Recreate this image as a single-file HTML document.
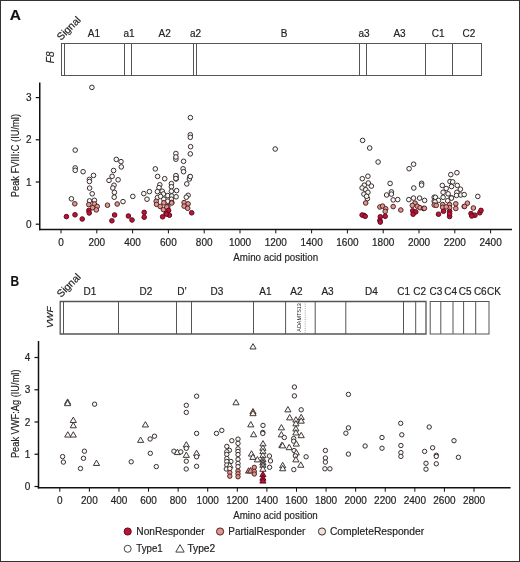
<!DOCTYPE html>
<html><head><meta charset="utf-8"><style>
html,body{margin:0;padding:0;background:#fff;}
#wrap{position:relative;width:520px;height:562px;box-sizing:border-box;border:1px solid #333;overflow:hidden;background:#fff;}
svg{position:absolute;left:-1px;top:-1px;will-change:transform;}
svg text{font-family:"Liberation Sans", sans-serif;stroke:#222;stroke-width:0.18px;}
</style></head><body><div id="wrap">
<svg width="520" height="562" viewBox="0 0 520 562">
<text x="15.3" y="20.3" font-size="15.5" text-anchor="middle" fill="#111" font-weight="bold" font-style="normal" >A</text>
<rect x="61.5" y="43.5" width="420.0" height="32.0" fill="none" stroke="#555" stroke-width="1"/>
<line x1="64.5" y1="43.5" x2="64.5" y2="75.5" stroke="#555" stroke-width="1"/>
<line x1="124.5" y1="43.5" x2="124.5" y2="75.5" stroke="#555" stroke-width="1"/>
<line x1="131.5" y1="43.5" x2="131.5" y2="75.5" stroke="#555" stroke-width="1"/>
<line x1="193.5" y1="43.5" x2="193.5" y2="75.5" stroke="#555" stroke-width="1"/>
<line x1="196.5" y1="43.5" x2="196.5" y2="75.5" stroke="#555" stroke-width="1"/>
<line x1="359.5" y1="43.5" x2="359.5" y2="75.5" stroke="#555" stroke-width="1"/>
<line x1="366.5" y1="43.5" x2="366.5" y2="75.5" stroke="#555" stroke-width="1"/>
<line x1="425.5" y1="43.5" x2="425.5" y2="75.5" stroke="#555" stroke-width="1"/>
<line x1="452.5" y1="43.5" x2="452.5" y2="75.5" stroke="#555" stroke-width="1"/>
<text x="93.9" y="37.3" font-size="10" text-anchor="middle" fill="#222" font-weight="normal" font-style="normal" >A1</text>
<text x="129" y="37.3" font-size="10" text-anchor="middle" fill="#222" font-weight="normal" font-style="normal" >a1</text>
<text x="164.7" y="37.3" font-size="10" text-anchor="middle" fill="#222" font-weight="normal" font-style="normal" >A2</text>
<text x="195.5" y="37.3" font-size="10" text-anchor="middle" fill="#222" font-weight="normal" font-style="normal" >a2</text>
<text x="284.2" y="37.3" font-size="10" text-anchor="middle" fill="#222" font-weight="normal" font-style="normal" >B</text>
<text x="364" y="37.3" font-size="10" text-anchor="middle" fill="#222" font-weight="normal" font-style="normal" >a3</text>
<text x="399.5" y="37.3" font-size="10" text-anchor="middle" fill="#222" font-weight="normal" font-style="normal" >A3</text>
<text x="438.2" y="37.3" font-size="10" text-anchor="middle" fill="#222" font-weight="normal" font-style="normal" >C1</text>
<text x="468.9" y="37.3" font-size="10" text-anchor="middle" fill="#222" font-weight="normal" font-style="normal" >C2</text>
<text x="0" y="0" font-size="10.4" fill="#222" transform="translate(61,41) rotate(-45)">Signal</text>
<text x="0" y="0" font-size="10" fill="#222" font-style="italic" text-anchor="middle" transform="translate(53.5,57.4) rotate(-90)">F8</text>
<line x1="39.75" y1="82.5" x2="39.75" y2="230.15" stroke="#111" stroke-width="1.5"/>
<line x1="39.0" y1="229.4" x2="512" y2="229.4" stroke="#111" stroke-width="1.5"/>
<line x1="35.75" y1="224.20" x2="39.75" y2="224.20" stroke="#111" stroke-width="1.2"/>
<text x="31.6" y="227.79999999999998" font-size="10" text-anchor="end" fill="#222" font-weight="normal" font-style="normal" >0</text>
<line x1="35.75" y1="182.00" x2="39.75" y2="182.00" stroke="#111" stroke-width="1.2"/>
<text x="31.6" y="185.6" font-size="10" text-anchor="end" fill="#222" font-weight="normal" font-style="normal" >1</text>
<line x1="35.75" y1="139.80" x2="39.75" y2="139.80" stroke="#111" stroke-width="1.2"/>
<text x="31.6" y="143.39999999999998" font-size="10" text-anchor="end" fill="#222" font-weight="normal" font-style="normal" >2</text>
<line x1="35.75" y1="97.60" x2="39.75" y2="97.60" stroke="#111" stroke-width="1.2"/>
<text x="31.6" y="101.19999999999997" font-size="10" text-anchor="end" fill="#222" font-weight="normal" font-style="normal" >3</text>
<line x1="61.00" y1="229.4" x2="61.00" y2="233.4" stroke="#111" stroke-width="1"/>
<text x="61.00" y="246" font-size="10" text-anchor="middle" fill="#222" font-weight="normal" font-style="normal" >0</text>
<line x1="96.80" y1="229.4" x2="96.80" y2="233.4" stroke="#111" stroke-width="1"/>
<text x="96.80" y="246" font-size="10" text-anchor="middle" fill="#222" font-weight="normal" font-style="normal" >200</text>
<line x1="132.60" y1="229.4" x2="132.60" y2="233.4" stroke="#111" stroke-width="1"/>
<text x="132.60" y="246" font-size="10" text-anchor="middle" fill="#222" font-weight="normal" font-style="normal" >400</text>
<line x1="168.40" y1="229.4" x2="168.40" y2="233.4" stroke="#111" stroke-width="1"/>
<text x="168.40" y="246" font-size="10" text-anchor="middle" fill="#222" font-weight="normal" font-style="normal" >600</text>
<line x1="204.20" y1="229.4" x2="204.20" y2="233.4" stroke="#111" stroke-width="1"/>
<text x="204.20" y="246" font-size="10" text-anchor="middle" fill="#222" font-weight="normal" font-style="normal" >800</text>
<line x1="240.00" y1="229.4" x2="240.00" y2="233.4" stroke="#111" stroke-width="1"/>
<text x="240.00" y="246" font-size="10" text-anchor="middle" fill="#222" font-weight="normal" font-style="normal" >1000</text>
<line x1="275.80" y1="229.4" x2="275.80" y2="233.4" stroke="#111" stroke-width="1"/>
<text x="275.80" y="246" font-size="10" text-anchor="middle" fill="#222" font-weight="normal" font-style="normal" >1200</text>
<line x1="311.60" y1="229.4" x2="311.60" y2="233.4" stroke="#111" stroke-width="1"/>
<text x="311.60" y="246" font-size="10" text-anchor="middle" fill="#222" font-weight="normal" font-style="normal" >1400</text>
<line x1="347.40" y1="229.4" x2="347.40" y2="233.4" stroke="#111" stroke-width="1"/>
<text x="347.40" y="246" font-size="10" text-anchor="middle" fill="#222" font-weight="normal" font-style="normal" >1600</text>
<line x1="383.20" y1="229.4" x2="383.20" y2="233.4" stroke="#111" stroke-width="1"/>
<text x="383.20" y="246" font-size="10" text-anchor="middle" fill="#222" font-weight="normal" font-style="normal" >1800</text>
<line x1="419.00" y1="229.4" x2="419.00" y2="233.4" stroke="#111" stroke-width="1"/>
<text x="419.00" y="246" font-size="10" text-anchor="middle" fill="#222" font-weight="normal" font-style="normal" >2000</text>
<line x1="454.80" y1="229.4" x2="454.80" y2="233.4" stroke="#111" stroke-width="1"/>
<text x="454.80" y="246" font-size="10" text-anchor="middle" fill="#222" font-weight="normal" font-style="normal" >2200</text>
<line x1="490.60" y1="229.4" x2="490.60" y2="233.4" stroke="#111" stroke-width="1"/>
<text x="490.60" y="246" font-size="10" text-anchor="middle" fill="#222" font-weight="normal" font-style="normal" >2400</text>
<text x="275.7" y="260.6" font-size="11.5" text-anchor="middle" fill="#222" font-weight="normal" font-style="normal" textLength="84.8" lengthAdjust="spacingAndGlyphs" >Amino acid position</text>
<text x="0" y="0" font-size="11" fill="#222" text-anchor="middle" textLength="83.2" lengthAdjust="spacingAndGlyphs" transform="translate(19.2,155.6) rotate(-90)">Peak FVIII:C (IU/ml)</text>
<circle cx="91.9" cy="87.4" r="2.3" fill="#fdf6f5" stroke="#353030" stroke-width="1.0"/>
<circle cx="75.2" cy="150.1" r="2.3" fill="#fdf6f5" stroke="#353030" stroke-width="1.0"/>
<circle cx="75.2" cy="167.9" r="2.3" fill="#fdf6f5" stroke="#353030" stroke-width="1.0"/>
<circle cx="75.2" cy="170.3" r="2.3" fill="#fdf6f5" stroke="#353030" stroke-width="1.0"/>
<circle cx="83.1" cy="171.7" r="2.3" fill="#fdf6f5" stroke="#353030" stroke-width="1.0"/>
<circle cx="93.5" cy="175.4" r="2.3" fill="#fdf6f5" stroke="#353030" stroke-width="1.0"/>
<circle cx="89.4" cy="179.4" r="2.3" fill="#fdf6f5" stroke="#353030" stroke-width="1.0"/>
<circle cx="89.4" cy="181.5" r="2.3" fill="#fdf6f5" stroke="#353030" stroke-width="1.0"/>
<circle cx="89.6" cy="188.1" r="2.3" fill="#fdf6f5" stroke="#353030" stroke-width="1.0"/>
<circle cx="92.2" cy="193.8" r="2.3" fill="#fdf6f5" stroke="#353030" stroke-width="1.0"/>
<circle cx="71.4" cy="198.8" r="2.3" fill="#fdf6f5" stroke="#353030" stroke-width="1.0"/>
<circle cx="89.5" cy="200.9" r="2.3" fill="#fdf6f5" stroke="#353030" stroke-width="1.0"/>
<circle cx="94.4" cy="200.3" r="2.3" fill="#fdf6f5" stroke="#353030" stroke-width="1.0"/>
<circle cx="116.3" cy="159.4" r="2.3" fill="#fdf6f5" stroke="#353030" stroke-width="1.0"/>
<circle cx="121.0" cy="161.6" r="2.3" fill="#fdf6f5" stroke="#353030" stroke-width="1.0"/>
<circle cx="121.3" cy="166.9" r="2.3" fill="#fdf6f5" stroke="#353030" stroke-width="1.0"/>
<circle cx="113.6" cy="170.5" r="2.3" fill="#fdf6f5" stroke="#353030" stroke-width="1.0"/>
<circle cx="112.1" cy="176.3" r="2.3" fill="#fdf6f5" stroke="#353030" stroke-width="1.0"/>
<circle cx="109.0" cy="180.4" r="2.3" fill="#fdf6f5" stroke="#353030" stroke-width="1.0"/>
<circle cx="118.1" cy="179.8" r="2.3" fill="#fdf6f5" stroke="#353030" stroke-width="1.0"/>
<circle cx="114.0" cy="185.2" r="2.3" fill="#fdf6f5" stroke="#353030" stroke-width="1.0"/>
<circle cx="112.8" cy="188.0" r="2.3" fill="#fdf6f5" stroke="#353030" stroke-width="1.0"/>
<circle cx="114.4" cy="192.4" r="2.3" fill="#fdf6f5" stroke="#353030" stroke-width="1.0"/>
<circle cx="114.2" cy="197.2" r="2.3" fill="#fdf6f5" stroke="#353030" stroke-width="1.0"/>
<circle cx="132.8" cy="196.4" r="2.3" fill="#fdf6f5" stroke="#353030" stroke-width="1.0"/>
<circle cx="123.0" cy="201.6" r="2.3" fill="#fdf6f5" stroke="#353030" stroke-width="1.0"/>
<circle cx="155.3" cy="168.9" r="2.3" fill="#fdf6f5" stroke="#353030" stroke-width="1.0"/>
<circle cx="157.6" cy="176.4" r="2.3" fill="#fdf6f5" stroke="#353030" stroke-width="1.0"/>
<circle cx="164.7" cy="178.7" r="2.3" fill="#fdf6f5" stroke="#353030" stroke-width="1.0"/>
<circle cx="143.8" cy="193.6" r="2.3" fill="#fdf6f5" stroke="#353030" stroke-width="1.0"/>
<circle cx="149.4" cy="191.6" r="2.3" fill="#fdf6f5" stroke="#353030" stroke-width="1.0"/>
<circle cx="147.0" cy="199.2" r="2.3" fill="#fdf6f5" stroke="#353030" stroke-width="1.0"/>
<circle cx="159.8" cy="184.8" r="2.3" fill="#fdf6f5" stroke="#353030" stroke-width="1.0"/>
<circle cx="159.0" cy="187.6" r="2.3" fill="#fdf6f5" stroke="#353030" stroke-width="1.0"/>
<circle cx="157.4" cy="191.6" r="2.3" fill="#fdf6f5" stroke="#353030" stroke-width="1.0"/>
<circle cx="162.2" cy="191.2" r="2.3" fill="#fdf6f5" stroke="#353030" stroke-width="1.0"/>
<circle cx="163.4" cy="194.0" r="2.3" fill="#fdf6f5" stroke="#353030" stroke-width="1.0"/>
<circle cx="157.4" cy="197.6" r="2.3" fill="#fdf6f5" stroke="#353030" stroke-width="1.0"/>
<circle cx="160.6" cy="196.4" r="2.3" fill="#fdf6f5" stroke="#353030" stroke-width="1.0"/>
<circle cx="171.4" cy="183.6" r="2.3" fill="#fdf6f5" stroke="#353030" stroke-width="1.0"/>
<circle cx="171.4" cy="186.8" r="2.3" fill="#fdf6f5" stroke="#353030" stroke-width="1.0"/>
<circle cx="171.4" cy="191.2" r="2.3" fill="#fdf6f5" stroke="#353030" stroke-width="1.0"/>
<circle cx="167.8" cy="195.6" r="2.3" fill="#fdf6f5" stroke="#353030" stroke-width="1.0"/>
<circle cx="171.8" cy="196.0" r="2.3" fill="#fdf6f5" stroke="#353030" stroke-width="1.0"/>
<circle cx="163.8" cy="199.2" r="2.3" fill="#fdf6f5" stroke="#353030" stroke-width="1.0"/>
<circle cx="171.4" cy="199.2" r="2.3" fill="#fdf6f5" stroke="#353030" stroke-width="1.0"/>
<circle cx="167.8" cy="201.2" r="2.3" fill="#fdf6f5" stroke="#353030" stroke-width="1.0"/>
<circle cx="176.1" cy="176.3" r="2.3" fill="#fdf6f5" stroke="#353030" stroke-width="1.0"/>
<circle cx="176.1" cy="179.0" r="2.3" fill="#fdf6f5" stroke="#353030" stroke-width="1.0"/>
<circle cx="189.9" cy="176.8" r="2.3" fill="#fdf6f5" stroke="#353030" stroke-width="1.0"/>
<circle cx="189.4" cy="179.0" r="2.3" fill="#fdf6f5" stroke="#353030" stroke-width="1.0"/>
<circle cx="186.8" cy="183.9" r="2.3" fill="#fdf6f5" stroke="#353030" stroke-width="1.0"/>
<circle cx="176.6" cy="190.6" r="2.3" fill="#fdf6f5" stroke="#353030" stroke-width="1.0"/>
<circle cx="176.1" cy="196.8" r="2.3" fill="#fdf6f5" stroke="#353030" stroke-width="1.0"/>
<circle cx="188.1" cy="195.3" r="2.3" fill="#fdf6f5" stroke="#353030" stroke-width="1.0"/>
<circle cx="186.3" cy="197.2" r="2.3" fill="#fdf6f5" stroke="#353030" stroke-width="1.0"/>
<circle cx="190.4" cy="117.6" r="2.3" fill="#fdf6f5" stroke="#353030" stroke-width="1.0"/>
<circle cx="190.3" cy="134.8" r="2.3" fill="#fdf6f5" stroke="#353030" stroke-width="1.0"/>
<circle cx="190.3" cy="137.3" r="2.3" fill="#fdf6f5" stroke="#353030" stroke-width="1.0"/>
<circle cx="190.6" cy="146.7" r="2.3" fill="#fdf6f5" stroke="#353030" stroke-width="1.0"/>
<circle cx="190.3" cy="153.9" r="2.3" fill="#fdf6f5" stroke="#353030" stroke-width="1.0"/>
<circle cx="175.9" cy="153.5" r="2.3" fill="#fdf6f5" stroke="#353030" stroke-width="1.0"/>
<circle cx="175.9" cy="159.2" r="2.3" fill="#fdf6f5" stroke="#353030" stroke-width="1.0"/>
<circle cx="175.9" cy="157.0" r="2.3" fill="#fdf6f5" stroke="#353030" stroke-width="1.0"/>
<circle cx="183.6" cy="161.3" r="2.3" fill="#fdf6f5" stroke="#353030" stroke-width="1.0"/>
<circle cx="183.1" cy="168.8" r="2.3" fill="#fdf6f5" stroke="#353030" stroke-width="1.0"/>
<circle cx="183.6" cy="171.7" r="2.3" fill="#fdf6f5" stroke="#353030" stroke-width="1.0"/>
<circle cx="175.9" cy="175.6" r="2.3" fill="#fdf6f5" stroke="#353030" stroke-width="1.0"/>
<circle cx="175.9" cy="178.5" r="2.3" fill="#fdf6f5" stroke="#353030" stroke-width="1.0"/>
<circle cx="190.3" cy="176.5" r="2.3" fill="#fdf6f5" stroke="#353030" stroke-width="1.0"/>
<circle cx="275.2" cy="149.0" r="2.3" fill="#fdf6f5" stroke="#353030" stroke-width="1.0"/>
<circle cx="362.6" cy="140.4" r="2.3" fill="#fdf6f5" stroke="#353030" stroke-width="1.0"/>
<circle cx="369.7" cy="148.0" r="2.3" fill="#fdf6f5" stroke="#353030" stroke-width="1.0"/>
<circle cx="378.1" cy="162.0" r="2.3" fill="#fdf6f5" stroke="#353030" stroke-width="1.0"/>
<circle cx="367.9" cy="176.2" r="2.3" fill="#fdf6f5" stroke="#353030" stroke-width="1.0"/>
<circle cx="362.3" cy="178.7" r="2.3" fill="#fdf6f5" stroke="#353030" stroke-width="1.0"/>
<circle cx="368.3" cy="183.0" r="2.3" fill="#fdf6f5" stroke="#353030" stroke-width="1.0"/>
<circle cx="371.4" cy="186.1" r="2.3" fill="#fdf6f5" stroke="#353030" stroke-width="1.0"/>
<circle cx="364.3" cy="185.2" r="2.3" fill="#fdf6f5" stroke="#353030" stroke-width="1.0"/>
<circle cx="362.1" cy="187.9" r="2.3" fill="#fdf6f5" stroke="#353030" stroke-width="1.0"/>
<circle cx="365.7" cy="189.7" r="2.3" fill="#fdf6f5" stroke="#353030" stroke-width="1.0"/>
<circle cx="367.9" cy="192.3" r="2.3" fill="#fdf6f5" stroke="#353030" stroke-width="1.0"/>
<circle cx="363.9" cy="194.1" r="2.3" fill="#fdf6f5" stroke="#353030" stroke-width="1.0"/>
<circle cx="367.4" cy="198.6" r="2.3" fill="#fdf6f5" stroke="#353030" stroke-width="1.0"/>
<circle cx="366.6" cy="196.3" r="2.3" fill="#fdf6f5" stroke="#353030" stroke-width="1.0"/>
<circle cx="390.1" cy="183.4" r="2.3" fill="#fdf6f5" stroke="#353030" stroke-width="1.0"/>
<circle cx="386.6" cy="195.0" r="2.3" fill="#fdf6f5" stroke="#353030" stroke-width="1.0"/>
<circle cx="391.4" cy="191.9" r="2.3" fill="#fdf6f5" stroke="#353030" stroke-width="1.0"/>
<circle cx="391.4" cy="194.1" r="2.3" fill="#fdf6f5" stroke="#353030" stroke-width="1.0"/>
<circle cx="393.2" cy="199.9" r="2.3" fill="#fdf6f5" stroke="#353030" stroke-width="1.0"/>
<circle cx="413.6" cy="164.2" r="2.3" fill="#fdf6f5" stroke="#353030" stroke-width="1.0"/>
<circle cx="409.1" cy="168.7" r="2.3" fill="#fdf6f5" stroke="#353030" stroke-width="1.0"/>
<circle cx="421.6" cy="183.3" r="2.3" fill="#fdf6f5" stroke="#353030" stroke-width="1.0"/>
<circle cx="421.6" cy="185.1" r="2.3" fill="#fdf6f5" stroke="#353030" stroke-width="1.0"/>
<circle cx="413.8" cy="188.0" r="2.3" fill="#fdf6f5" stroke="#353030" stroke-width="1.0"/>
<circle cx="397.7" cy="199.6" r="2.3" fill="#fdf6f5" stroke="#353030" stroke-width="1.0"/>
<circle cx="408.8" cy="199.6" r="2.3" fill="#fdf6f5" stroke="#353030" stroke-width="1.0"/>
<circle cx="413.5" cy="198.1" r="2.3" fill="#fdf6f5" stroke="#353030" stroke-width="1.0"/>
<circle cx="419.6" cy="198.1" r="2.3" fill="#fdf6f5" stroke="#353030" stroke-width="1.0"/>
<circle cx="424.6" cy="200.4" r="2.3" fill="#fdf6f5" stroke="#353030" stroke-width="1.0"/>
<circle cx="434.2" cy="197.3" r="2.3" fill="#fdf6f5" stroke="#353030" stroke-width="1.0"/>
<circle cx="434.2" cy="201.2" r="2.3" fill="#fdf6f5" stroke="#353030" stroke-width="1.0"/>
<circle cx="456.9" cy="172.7" r="2.3" fill="#fdf6f5" stroke="#353030" stroke-width="1.0"/>
<circle cx="450.8" cy="174.6" r="2.3" fill="#fdf6f5" stroke="#353030" stroke-width="1.0"/>
<circle cx="450.0" cy="181.5" r="2.3" fill="#fdf6f5" stroke="#353030" stroke-width="1.0"/>
<circle cx="452.7" cy="181.9" r="2.3" fill="#fdf6f5" stroke="#353030" stroke-width="1.0"/>
<circle cx="451.5" cy="186.5" r="2.3" fill="#fdf6f5" stroke="#353030" stroke-width="1.0"/>
<circle cx="442.3" cy="185.4" r="2.3" fill="#fdf6f5" stroke="#353030" stroke-width="1.0"/>
<circle cx="446.2" cy="188.5" r="2.3" fill="#fdf6f5" stroke="#353030" stroke-width="1.0"/>
<circle cx="457.3" cy="185.4" r="2.3" fill="#fdf6f5" stroke="#353030" stroke-width="1.0"/>
<circle cx="460.4" cy="189.2" r="2.3" fill="#fdf6f5" stroke="#353030" stroke-width="1.0"/>
<circle cx="443.1" cy="192.3" r="2.3" fill="#fdf6f5" stroke="#353030" stroke-width="1.0"/>
<circle cx="448.1" cy="193.8" r="2.3" fill="#fdf6f5" stroke="#353030" stroke-width="1.0"/>
<circle cx="456.9" cy="192.3" r="2.3" fill="#fdf6f5" stroke="#353030" stroke-width="1.0"/>
<circle cx="456.5" cy="195.4" r="2.3" fill="#fdf6f5" stroke="#353030" stroke-width="1.0"/>
<circle cx="460.8" cy="195.0" r="2.3" fill="#fdf6f5" stroke="#353030" stroke-width="1.0"/>
<circle cx="451.2" cy="197.7" r="2.3" fill="#fdf6f5" stroke="#353030" stroke-width="1.0"/>
<circle cx="443.1" cy="197.3" r="2.3" fill="#fdf6f5" stroke="#353030" stroke-width="1.0"/>
<circle cx="435.4" cy="197.3" r="2.3" fill="#fdf6f5" stroke="#353030" stroke-width="1.0"/>
<circle cx="464.2" cy="194.6" r="2.3" fill="#fdf6f5" stroke="#353030" stroke-width="1.0"/>
<circle cx="451.5" cy="198.1" r="2.3" fill="#fdf6f5" stroke="#353030" stroke-width="1.0"/>
<circle cx="438.5" cy="200.4" r="2.3" fill="#fdf6f5" stroke="#353030" stroke-width="1.0"/>
<circle cx="435.0" cy="201.9" r="2.3" fill="#fdf6f5" stroke="#353030" stroke-width="1.0"/>
<circle cx="447.7" cy="200.8" r="2.3" fill="#fdf6f5" stroke="#353030" stroke-width="1.0"/>
<circle cx="477.8" cy="196.4" r="2.3" fill="#fdf6f5" stroke="#353030" stroke-width="1.0"/>
<circle cx="74.8" cy="203.8" r="2.3" fill="#e0968f" stroke="#4e2424" stroke-width="1.0"/>
<circle cx="88.8" cy="204.6" r="2.3" fill="#e0968f" stroke="#4e2424" stroke-width="1.0"/>
<circle cx="94.4" cy="204.0" r="2.3" fill="#e0968f" stroke="#4e2424" stroke-width="1.0"/>
<circle cx="97.2" cy="206.5" r="2.3" fill="#e0968f" stroke="#4e2424" stroke-width="1.0"/>
<circle cx="92.6" cy="207.7" r="2.3" fill="#e0968f" stroke="#4e2424" stroke-width="1.0"/>
<circle cx="96.3" cy="209.9" r="2.3" fill="#e0968f" stroke="#4e2424" stroke-width="1.0"/>
<circle cx="107.5" cy="205.2" r="2.3" fill="#e0968f" stroke="#4e2424" stroke-width="1.0"/>
<circle cx="117.2" cy="204.0" r="2.3" fill="#e0968f" stroke="#4e2424" stroke-width="1.0"/>
<circle cx="156.2" cy="201.2" r="2.3" fill="#e0968f" stroke="#4e2424" stroke-width="1.0"/>
<circle cx="156.6" cy="204.4" r="2.3" fill="#e0968f" stroke="#4e2424" stroke-width="1.0"/>
<circle cx="160.2" cy="206.4" r="2.3" fill="#e0968f" stroke="#4e2424" stroke-width="1.0"/>
<circle cx="163.8" cy="202.8" r="2.3" fill="#e0968f" stroke="#4e2424" stroke-width="1.0"/>
<circle cx="163.4" cy="209.6" r="2.3" fill="#e0968f" stroke="#4e2424" stroke-width="1.0"/>
<circle cx="167.8" cy="206.4" r="2.3" fill="#e0968f" stroke="#4e2424" stroke-width="1.0"/>
<circle cx="171.8" cy="202.4" r="2.3" fill="#e0968f" stroke="#4e2424" stroke-width="1.0"/>
<circle cx="171.7" cy="203.0" r="2.3" fill="#e0968f" stroke="#4e2424" stroke-width="1.0"/>
<circle cx="166.8" cy="207.0" r="2.3" fill="#e0968f" stroke="#4e2424" stroke-width="1.0"/>
<circle cx="184.1" cy="202.6" r="2.3" fill="#e0968f" stroke="#4e2424" stroke-width="1.0"/>
<circle cx="188.1" cy="203.9" r="2.3" fill="#e0968f" stroke="#4e2424" stroke-width="1.0"/>
<circle cx="184.1" cy="206.1" r="2.3" fill="#e0968f" stroke="#4e2424" stroke-width="1.0"/>
<circle cx="187.7" cy="208.3" r="2.3" fill="#e0968f" stroke="#4e2424" stroke-width="1.0"/>
<circle cx="365.7" cy="203.0" r="2.3" fill="#e0968f" stroke="#4e2424" stroke-width="1.0"/>
<circle cx="379.9" cy="207.0" r="2.3" fill="#e0968f" stroke="#4e2424" stroke-width="1.0"/>
<circle cx="382.6" cy="206.1" r="2.3" fill="#e0968f" stroke="#4e2424" stroke-width="1.0"/>
<circle cx="385.7" cy="208.8" r="2.3" fill="#e0968f" stroke="#4e2424" stroke-width="1.0"/>
<circle cx="385.2" cy="211.4" r="2.3" fill="#e0968f" stroke="#4e2424" stroke-width="1.0"/>
<circle cx="393.2" cy="206.6" r="2.3" fill="#e0968f" stroke="#4e2424" stroke-width="1.0"/>
<circle cx="415.0" cy="203.1" r="2.3" fill="#e0968f" stroke="#4e2424" stroke-width="1.0"/>
<circle cx="412.3" cy="205.4" r="2.3" fill="#e0968f" stroke="#4e2424" stroke-width="1.0"/>
<circle cx="417.3" cy="206.2" r="2.3" fill="#e0968f" stroke="#4e2424" stroke-width="1.0"/>
<circle cx="420.0" cy="207.7" r="2.3" fill="#e0968f" stroke="#4e2424" stroke-width="1.0"/>
<circle cx="423.5" cy="208.5" r="2.3" fill="#e0968f" stroke="#4e2424" stroke-width="1.0"/>
<circle cx="400.8" cy="210.0" r="2.3" fill="#e0968f" stroke="#4e2424" stroke-width="1.0"/>
<circle cx="434.2" cy="205.0" r="2.3" fill="#e0968f" stroke="#4e2424" stroke-width="1.0"/>
<circle cx="436.2" cy="205.4" r="2.3" fill="#e0968f" stroke="#4e2424" stroke-width="1.0"/>
<circle cx="442.7" cy="204.6" r="2.3" fill="#e0968f" stroke="#4e2424" stroke-width="1.0"/>
<circle cx="442.7" cy="207.3" r="2.3" fill="#e0968f" stroke="#4e2424" stroke-width="1.0"/>
<circle cx="449.6" cy="204.6" r="2.3" fill="#e0968f" stroke="#4e2424" stroke-width="1.0"/>
<circle cx="449.6" cy="207.7" r="2.3" fill="#e0968f" stroke="#4e2424" stroke-width="1.0"/>
<circle cx="446.2" cy="206.9" r="2.3" fill="#e0968f" stroke="#4e2424" stroke-width="1.0"/>
<circle cx="455.8" cy="203.8" r="2.3" fill="#e0968f" stroke="#4e2424" stroke-width="1.0"/>
<circle cx="455.8" cy="208.5" r="2.3" fill="#e0968f" stroke="#4e2424" stroke-width="1.0"/>
<circle cx="464.2" cy="206.5" r="2.3" fill="#e0968f" stroke="#4e2424" stroke-width="1.0"/>
<circle cx="467.4" cy="203.2" r="2.3" fill="#e0968f" stroke="#4e2424" stroke-width="1.0"/>
<circle cx="464.6" cy="206.4" r="2.3" fill="#e0968f" stroke="#4e2424" stroke-width="1.0"/>
<circle cx="473.4" cy="208.0" r="2.3" fill="#e0968f" stroke="#4e2424" stroke-width="1.0"/>
<circle cx="424.4" cy="208.3" r="2.3" fill="#e0968f" stroke="#4e2424" stroke-width="1.0"/>
<circle cx="66.4" cy="216.6" r="2.3" fill="#bd1238" stroke="#5e0a1c" stroke-width="1.0"/>
<circle cx="75.0" cy="214.8" r="2.3" fill="#bd1238" stroke="#5e0a1c" stroke-width="1.0"/>
<circle cx="82.2" cy="219.0" r="2.3" fill="#bd1238" stroke="#5e0a1c" stroke-width="1.0"/>
<circle cx="88.8" cy="210.5" r="2.3" fill="#bd1238" stroke="#5e0a1c" stroke-width="1.0"/>
<circle cx="89.2" cy="213.0" r="2.3" fill="#bd1238" stroke="#5e0a1c" stroke-width="1.0"/>
<circle cx="111.9" cy="220.8" r="2.3" fill="#bd1238" stroke="#5e0a1c" stroke-width="1.0"/>
<circle cx="114.6" cy="215.0" r="2.3" fill="#bd1238" stroke="#5e0a1c" stroke-width="1.0"/>
<circle cx="128.4" cy="216.0" r="2.3" fill="#bd1238" stroke="#5e0a1c" stroke-width="1.0"/>
<circle cx="132.0" cy="220.0" r="2.3" fill="#bd1238" stroke="#5e0a1c" stroke-width="1.0"/>
<circle cx="168.6" cy="210.4" r="2.3" fill="#bd1238" stroke="#5e0a1c" stroke-width="1.0"/>
<circle cx="166.2" cy="213.2" r="2.3" fill="#bd1238" stroke="#5e0a1c" stroke-width="1.0"/>
<circle cx="169.4" cy="215.2" r="2.3" fill="#bd1238" stroke="#5e0a1c" stroke-width="1.0"/>
<circle cx="162.6" cy="216.8" r="2.3" fill="#bd1238" stroke="#5e0a1c" stroke-width="1.0"/>
<circle cx="144.2" cy="212.4" r="2.3" fill="#bd1238" stroke="#5e0a1c" stroke-width="1.0"/>
<circle cx="144.2" cy="217.2" r="2.3" fill="#bd1238" stroke="#5e0a1c" stroke-width="1.0"/>
<circle cx="166.3" cy="214.1" r="2.3" fill="#bd1238" stroke="#5e0a1c" stroke-width="1.0"/>
<circle cx="191.7" cy="212.8" r="2.3" fill="#bd1238" stroke="#5e0a1c" stroke-width="1.0"/>
<circle cx="363.9" cy="215.4" r="2.3" fill="#bd1238" stroke="#5e0a1c" stroke-width="1.0"/>
<circle cx="362.1" cy="215.0" r="2.3" fill="#bd1238" stroke="#5e0a1c" stroke-width="1.0"/>
<circle cx="365.2" cy="216.3" r="2.3" fill="#bd1238" stroke="#5e0a1c" stroke-width="1.0"/>
<circle cx="385.2" cy="216.3" r="2.3" fill="#bd1238" stroke="#5e0a1c" stroke-width="1.0"/>
<circle cx="380.3" cy="216.8" r="2.3" fill="#bd1238" stroke="#5e0a1c" stroke-width="1.0"/>
<circle cx="379.9" cy="220.3" r="2.3" fill="#bd1238" stroke="#5e0a1c" stroke-width="1.0"/>
<circle cx="380.3" cy="222.1" r="2.3" fill="#bd1238" stroke="#5e0a1c" stroke-width="1.0"/>
<circle cx="412.7" cy="210.8" r="2.3" fill="#bd1238" stroke="#5e0a1c" stroke-width="1.0"/>
<circle cx="415.8" cy="211.9" r="2.3" fill="#bd1238" stroke="#5e0a1c" stroke-width="1.0"/>
<circle cx="413.1" cy="214.2" r="2.3" fill="#bd1238" stroke="#5e0a1c" stroke-width="1.0"/>
<circle cx="443.5" cy="211.2" r="2.3" fill="#bd1238" stroke="#5e0a1c" stroke-width="1.0"/>
<circle cx="438.5" cy="214.2" r="2.3" fill="#bd1238" stroke="#5e0a1c" stroke-width="1.0"/>
<circle cx="449.6" cy="211.5" r="2.3" fill="#bd1238" stroke="#5e0a1c" stroke-width="1.0"/>
<circle cx="449.6" cy="216.5" r="2.3" fill="#bd1238" stroke="#5e0a1c" stroke-width="1.0"/>
<circle cx="449.6" cy="213.8" r="2.3" fill="#bd1238" stroke="#5e0a1c" stroke-width="1.0"/>
<circle cx="471.0" cy="213.6" r="2.3" fill="#bd1238" stroke="#5e0a1c" stroke-width="1.0"/>
<circle cx="475.0" cy="215.2" r="2.3" fill="#bd1238" stroke="#5e0a1c" stroke-width="1.0"/>
<circle cx="471.8" cy="216.0" r="2.3" fill="#bd1238" stroke="#5e0a1c" stroke-width="1.0"/>
<circle cx="479.8" cy="212.8" r="2.3" fill="#bd1238" stroke="#5e0a1c" stroke-width="1.0"/>
<circle cx="481.0" cy="210.4" r="2.3" fill="#bd1238" stroke="#5e0a1c" stroke-width="1.0"/>
<text x="14.7" y="286.4" font-size="15.5" text-anchor="middle" fill="#111" font-weight="bold" font-style="normal" textLength="8.6" lengthAdjust="spacingAndGlyphs" >B</text>
<path d="M426 301.5H60.2V334H426Z" fill="none" stroke="#555" stroke-width="1.3"/>
<rect x="430.2" y="301.5" width="58.80000000000001" height="32.5" fill="none" stroke="#555" stroke-width="1"/>
<line x1="63.5" y1="301.5" x2="63.5" y2="334" stroke="#555" stroke-width="1"/>
<line x1="118.5" y1="301.5" x2="118.5" y2="334" stroke="#555" stroke-width="1"/>
<line x1="176.5" y1="301.5" x2="176.5" y2="334" stroke="#555" stroke-width="1"/>
<line x1="191.5" y1="301.5" x2="191.5" y2="334" stroke="#555" stroke-width="1"/>
<line x1="253.5" y1="301.5" x2="253.5" y2="334" stroke="#555" stroke-width="1"/>
<line x1="285.6" y1="301.5" x2="285.6" y2="334" stroke="#555" stroke-width="1"/>
<line x1="315.2" y1="301.5" x2="315.2" y2="334" stroke="#555" stroke-width="1"/>
<line x1="345.8" y1="301.5" x2="345.8" y2="334" stroke="#555" stroke-width="1"/>
<line x1="403.5" y1="301.5" x2="403.5" y2="334" stroke="#555" stroke-width="1"/>
<line x1="415.7" y1="301.5" x2="415.7" y2="334" stroke="#555" stroke-width="1"/>
<line x1="440.8" y1="301.5" x2="440.8" y2="334" stroke="#555" stroke-width="1"/>
<line x1="453" y1="301.5" x2="453" y2="334" stroke="#555" stroke-width="1"/>
<line x1="463.6" y1="301.5" x2="463.6" y2="334" stroke="#555" stroke-width="1"/>
<line x1="475.7" y1="301.5" x2="475.7" y2="334" stroke="#555" stroke-width="1"/>
<line x1="305.2" y1="301.5" x2="305.2" y2="334" stroke="#888" stroke-width="0.8" stroke-dasharray="1 1.2"/>
<text x="0" y="0" font-size="6" fill="#222" style="stroke-width:0" text-anchor="middle" textLength="28.5" lengthAdjust="spacingAndGlyphs" transform="translate(301,317.4) rotate(-90)">ADAMTS13</text>
<text x="90" y="294.6" font-size="10" text-anchor="middle" fill="#222" font-weight="normal" font-style="normal" >D1</text>
<text x="146" y="294.6" font-size="10" text-anchor="middle" fill="#222" font-weight="normal" font-style="normal" >D2</text>
<text x="182" y="294.6" font-size="10" text-anchor="middle" fill="#222" font-weight="normal" font-style="normal" >D’</text>
<text x="216.9" y="294.6" font-size="10" text-anchor="middle" fill="#222" font-weight="normal" font-style="normal" >D3</text>
<text x="265.4" y="294.6" font-size="10" text-anchor="middle" fill="#222" font-weight="normal" font-style="normal" >A1</text>
<text x="296.4" y="294.6" font-size="10" text-anchor="middle" fill="#222" font-weight="normal" font-style="normal" >A2</text>
<text x="327.5" y="294.6" font-size="10" text-anchor="middle" fill="#222" font-weight="normal" font-style="normal" >A3</text>
<text x="371.4" y="294.6" font-size="10" text-anchor="middle" fill="#222" font-weight="normal" font-style="normal" >D4</text>
<text x="403.6" y="294.6" font-size="10" text-anchor="middle" fill="#222" font-weight="normal" font-style="normal" >C1</text>
<text x="419.7" y="294.6" font-size="10" text-anchor="middle" fill="#222" font-weight="normal" font-style="normal" >C2</text>
<text x="436" y="294.6" font-size="10" text-anchor="middle" fill="#222" font-weight="normal" font-style="normal" >C3</text>
<text x="450.6" y="294.6" font-size="10" text-anchor="middle" fill="#222" font-weight="normal" font-style="normal" >C4</text>
<text x="465.2" y="294.6" font-size="10" text-anchor="middle" fill="#222" font-weight="normal" font-style="normal" >C5</text>
<text x="480.3" y="294.6" font-size="10" text-anchor="middle" fill="#222" font-weight="normal" font-style="normal" >C6</text>
<text x="493.9" y="294.6" font-size="10" text-anchor="middle" fill="#222" font-weight="normal" font-style="normal" >CK</text>
<text x="0" y="0" font-size="10.4" fill="#222" transform="translate(61,298) rotate(-45)">Signal</text>
<text x="0" y="0" font-size="9.6" fill="#222" font-style="italic" text-anchor="middle" transform="translate(53.4,317.4) rotate(-90)">VWF</text>
<line x1="38.5" y1="341" x2="38.5" y2="488.5" stroke="#111" stroke-width="1.5"/>
<line x1="37.75" y1="487.75" x2="510.6" y2="487.75" stroke="#111" stroke-width="1.5"/>
<line x1="34.5" y1="486.50" x2="38.5" y2="486.50" stroke="#111" stroke-width="1.2"/>
<text x="30.4" y="490.1" font-size="10" text-anchor="end" fill="#222" font-weight="normal" font-style="normal" >0</text>
<line x1="34.5" y1="454.25" x2="38.5" y2="454.25" stroke="#111" stroke-width="1.2"/>
<text x="30.4" y="457.85" font-size="10" text-anchor="end" fill="#222" font-weight="normal" font-style="normal" >1</text>
<line x1="34.5" y1="422.00" x2="38.5" y2="422.00" stroke="#111" stroke-width="1.2"/>
<text x="30.4" y="425.6" font-size="10" text-anchor="end" fill="#222" font-weight="normal" font-style="normal" >2</text>
<line x1="34.5" y1="389.75" x2="38.5" y2="389.75" stroke="#111" stroke-width="1.2"/>
<text x="30.4" y="393.35" font-size="10" text-anchor="end" fill="#222" font-weight="normal" font-style="normal" >3</text>
<line x1="34.5" y1="357.50" x2="38.5" y2="357.50" stroke="#111" stroke-width="1.2"/>
<text x="30.4" y="361.1" font-size="10" text-anchor="end" fill="#222" font-weight="normal" font-style="normal" >4</text>
<line x1="59.80" y1="487.75" x2="59.80" y2="491.75" stroke="#111" stroke-width="1"/>
<text x="59.80" y="504" font-size="10" text-anchor="middle" fill="#222" font-weight="normal" font-style="normal" >0</text>
<line x1="89.39" y1="487.75" x2="89.39" y2="491.75" stroke="#111" stroke-width="1"/>
<text x="89.39" y="504" font-size="10" text-anchor="middle" fill="#222" font-weight="normal" font-style="normal" >200</text>
<line x1="118.97" y1="487.75" x2="118.97" y2="491.75" stroke="#111" stroke-width="1"/>
<text x="118.97" y="504" font-size="10" text-anchor="middle" fill="#222" font-weight="normal" font-style="normal" >400</text>
<line x1="148.56" y1="487.75" x2="148.56" y2="491.75" stroke="#111" stroke-width="1"/>
<text x="148.56" y="504" font-size="10" text-anchor="middle" fill="#222" font-weight="normal" font-style="normal" >600</text>
<line x1="178.14" y1="487.75" x2="178.14" y2="491.75" stroke="#111" stroke-width="1"/>
<text x="178.14" y="504" font-size="10" text-anchor="middle" fill="#222" font-weight="normal" font-style="normal" >800</text>
<line x1="207.73" y1="487.75" x2="207.73" y2="491.75" stroke="#111" stroke-width="1"/>
<text x="207.73" y="504" font-size="10" text-anchor="middle" fill="#222" font-weight="normal" font-style="normal" >1000</text>
<line x1="237.31" y1="487.75" x2="237.31" y2="491.75" stroke="#111" stroke-width="1"/>
<text x="237.31" y="504" font-size="10" text-anchor="middle" fill="#222" font-weight="normal" font-style="normal" >1200</text>
<line x1="266.90" y1="487.75" x2="266.90" y2="491.75" stroke="#111" stroke-width="1"/>
<text x="266.90" y="504" font-size="10" text-anchor="middle" fill="#222" font-weight="normal" font-style="normal" >1400</text>
<line x1="296.49" y1="487.75" x2="296.49" y2="491.75" stroke="#111" stroke-width="1"/>
<text x="296.49" y="504" font-size="10" text-anchor="middle" fill="#222" font-weight="normal" font-style="normal" >1600</text>
<line x1="326.07" y1="487.75" x2="326.07" y2="491.75" stroke="#111" stroke-width="1"/>
<text x="326.07" y="504" font-size="10" text-anchor="middle" fill="#222" font-weight="normal" font-style="normal" >1800</text>
<line x1="355.66" y1="487.75" x2="355.66" y2="491.75" stroke="#111" stroke-width="1"/>
<text x="355.66" y="504" font-size="10" text-anchor="middle" fill="#222" font-weight="normal" font-style="normal" >2000</text>
<line x1="385.24" y1="487.75" x2="385.24" y2="491.75" stroke="#111" stroke-width="1"/>
<text x="385.24" y="504" font-size="10" text-anchor="middle" fill="#222" font-weight="normal" font-style="normal" >2200</text>
<line x1="414.83" y1="487.75" x2="414.83" y2="491.75" stroke="#111" stroke-width="1"/>
<text x="414.83" y="504" font-size="10" text-anchor="middle" fill="#222" font-weight="normal" font-style="normal" >2400</text>
<line x1="444.41" y1="487.75" x2="444.41" y2="491.75" stroke="#111" stroke-width="1"/>
<text x="444.41" y="504" font-size="10" text-anchor="middle" fill="#222" font-weight="normal" font-style="normal" >2600</text>
<line x1="474.00" y1="487.75" x2="474.00" y2="491.75" stroke="#111" stroke-width="1"/>
<text x="474.00" y="504" font-size="10" text-anchor="middle" fill="#222" font-weight="normal" font-style="normal" >2800</text>
<text x="275.5" y="518.8" font-size="11.5" text-anchor="middle" fill="#222" font-weight="normal" font-style="normal" textLength="84.6" lengthAdjust="spacingAndGlyphs" >Amino acid position</text>
<text x="0" y="0" font-size="11" fill="#222" text-anchor="middle" textLength="88.6" lengthAdjust="spacingAndGlyphs" transform="translate(19.1,413.8) rotate(-90)">Peak VWF:Ag (IU/ml)</text>
<path d="M67.60 398.92L70.70 404.28L64.50 404.28Z" fill="#fdf6f5" stroke="#353030" stroke-width="0.95" stroke-linejoin="miter"/>
<path d="M67.60 400.32L70.70 405.68L64.50 405.68Z" fill="#fdf6f5" stroke="#353030" stroke-width="0.95" stroke-linejoin="miter"/>
<path d="M73.30 417.12L76.40 422.48L70.20 422.48Z" fill="#fdf6f5" stroke="#353030" stroke-width="0.95" stroke-linejoin="miter"/>
<path d="M73.30 422.42L76.40 427.78L70.20 427.78Z" fill="#fdf6f5" stroke="#353030" stroke-width="0.95" stroke-linejoin="miter"/>
<path d="M67.80 431.72L70.90 437.08L64.70 437.08Z" fill="#fdf6f5" stroke="#353030" stroke-width="0.95" stroke-linejoin="miter"/>
<path d="M73.30 431.72L76.40 437.08L70.20 437.08Z" fill="#fdf6f5" stroke="#353030" stroke-width="0.95" stroke-linejoin="miter"/>
<circle cx="62.6" cy="456.6" r="2.2" fill="#fdf6f5" stroke="#353030" stroke-width="1.0"/>
<circle cx="63.4" cy="462.1" r="2.2" fill="#fdf6f5" stroke="#353030" stroke-width="1.0"/>
<circle cx="84.4" cy="451.2" r="2.2" fill="#fdf6f5" stroke="#353030" stroke-width="1.0"/>
<circle cx="83.5" cy="458.3" r="2.2" fill="#fdf6f5" stroke="#353030" stroke-width="1.0"/>
<circle cx="80.5" cy="468.5" r="2.2" fill="#fdf6f5" stroke="#353030" stroke-width="1.0"/>
<path d="M96.50 460.12L99.60 465.48L93.40 465.48Z" fill="#fdf6f5" stroke="#353030" stroke-width="0.95" stroke-linejoin="miter"/>
<circle cx="94.6" cy="404.2" r="2.2" fill="#fdf6f5" stroke="#353030" stroke-width="1.0"/>
<circle cx="131.2" cy="461.8" r="2.2" fill="#fdf6f5" stroke="#353030" stroke-width="1.0"/>
<path d="M145.40 421.62L148.50 426.98L142.30 426.98Z" fill="#fdf6f5" stroke="#353030" stroke-width="0.95" stroke-linejoin="miter"/>
<path d="M140.60 437.02L143.70 442.38L137.50 442.38Z" fill="#fdf6f5" stroke="#353030" stroke-width="0.95" stroke-linejoin="miter"/>
<circle cx="150.1" cy="439.0" r="2.2" fill="#fdf6f5" stroke="#353030" stroke-width="1.0"/>
<circle cx="154.5" cy="436.2" r="2.2" fill="#fdf6f5" stroke="#353030" stroke-width="1.0"/>
<circle cx="150.3" cy="453.3" r="2.2" fill="#fdf6f5" stroke="#353030" stroke-width="1.0"/>
<circle cx="156.3" cy="466.6" r="2.2" fill="#fdf6f5" stroke="#353030" stroke-width="1.0"/>
<circle cx="196.6" cy="396.2" r="2.2" fill="#fdf6f5" stroke="#353030" stroke-width="1.0"/>
<circle cx="186.3" cy="405.3" r="2.2" fill="#fdf6f5" stroke="#353030" stroke-width="1.0"/>
<circle cx="186.3" cy="412.4" r="2.2" fill="#fdf6f5" stroke="#353030" stroke-width="1.0"/>
<circle cx="196.6" cy="433.4" r="2.2" fill="#fdf6f5" stroke="#353030" stroke-width="1.0"/>
<circle cx="173.9" cy="451.2" r="2.2" fill="#fdf6f5" stroke="#353030" stroke-width="1.0"/>
<path d="M177.40 449.22L180.50 454.58L174.30 454.58Z" fill="#fdf6f5" stroke="#353030" stroke-width="0.95" stroke-linejoin="miter"/>
<circle cx="180.8" cy="451.9" r="2.2" fill="#fdf6f5" stroke="#353030" stroke-width="1.0"/>
<path d="M186.30 441.62L189.40 446.98L183.20 446.98Z" fill="#fdf6f5" stroke="#353030" stroke-width="0.95" stroke-linejoin="miter"/>
<circle cx="186.3" cy="448.3" r="2.2" fill="#fdf6f5" stroke="#353030" stroke-width="1.0"/>
<path d="M186.30 452.02L189.40 457.38L183.20 457.38Z" fill="#fdf6f5" stroke="#353030" stroke-width="0.95" stroke-linejoin="miter"/>
<circle cx="186.3" cy="461.2" r="2.2" fill="#fdf6f5" stroke="#353030" stroke-width="1.0"/>
<circle cx="186.2" cy="469.0" r="2.2" fill="#fdf6f5" stroke="#353030" stroke-width="1.0"/>
<path d="M196.60 450.12L199.70 455.48L193.50 455.48Z" fill="#fdf6f5" stroke="#353030" stroke-width="0.95" stroke-linejoin="miter"/>
<circle cx="196.6" cy="456.8" r="2.2" fill="#fdf6f5" stroke="#353030" stroke-width="1.0"/>
<circle cx="196.6" cy="466.3" r="2.2" fill="#fdf6f5" stroke="#353030" stroke-width="1.0"/>
<path d="M236.00 399.42L239.10 404.78L232.90 404.78Z" fill="#fdf6f5" stroke="#353030" stroke-width="0.95" stroke-linejoin="miter"/>
<circle cx="216.5" cy="433.4" r="2.2" fill="#fdf6f5" stroke="#353030" stroke-width="1.0"/>
<circle cx="221.8" cy="430.4" r="2.2" fill="#fdf6f5" stroke="#353030" stroke-width="1.0"/>
<circle cx="231.8" cy="440.7" r="2.2" fill="#fdf6f5" stroke="#353030" stroke-width="1.0"/>
<circle cx="238.0" cy="439.1" r="2.2" fill="#fdf6f5" stroke="#353030" stroke-width="1.0"/>
<circle cx="238.0" cy="443.4" r="2.2" fill="#fdf6f5" stroke="#353030" stroke-width="1.0"/>
<circle cx="226.8" cy="446.4" r="2.2" fill="#fdf6f5" stroke="#353030" stroke-width="1.0"/>
<circle cx="229.4" cy="450.3" r="2.2" fill="#fdf6f5" stroke="#353030" stroke-width="1.0"/>
<circle cx="226.8" cy="451.8" r="2.2" fill="#fdf6f5" stroke="#353030" stroke-width="1.0"/>
<circle cx="226.8" cy="454.4" r="2.2" fill="#fdf6f5" stroke="#353030" stroke-width="1.0"/>
<circle cx="226.8" cy="458.5" r="2.2" fill="#fdf6f5" stroke="#353030" stroke-width="1.0"/>
<circle cx="230.9" cy="461.5" r="2.2" fill="#fdf6f5" stroke="#353030" stroke-width="1.0"/>
<circle cx="226.8" cy="461.5" r="2.2" fill="#fdf6f5" stroke="#353030" stroke-width="1.0"/>
<circle cx="226.8" cy="465.0" r="2.2" fill="#fdf6f5" stroke="#353030" stroke-width="1.0"/>
<path d="M229.80 462.32L232.90 467.68L226.70 467.68Z" fill="#fdf6f5" stroke="#353030" stroke-width="0.95" stroke-linejoin="miter"/>
<circle cx="226.3" cy="469.0" r="2.2" fill="#fdf6f5" stroke="#353030" stroke-width="1.0"/>
<circle cx="229.8" cy="468.6" r="2.2" fill="#fdf6f5" stroke="#353030" stroke-width="1.0"/>
<circle cx="229.8" cy="472.6" r="2.2" fill="#e0968f" stroke="#4e2424" stroke-width="1.0"/>
<circle cx="229.8" cy="476.2" r="2.2" fill="#e0968f" stroke="#4e2424" stroke-width="1.0"/>
<circle cx="238.0" cy="448.8" r="2.2" fill="#fdf6f5" stroke="#353030" stroke-width="1.0"/>
<circle cx="238.0" cy="451.5" r="2.2" fill="#fdf6f5" stroke="#353030" stroke-width="1.0"/>
<circle cx="238.0" cy="454.6" r="2.2" fill="#fdf6f5" stroke="#353030" stroke-width="1.0"/>
<circle cx="238.0" cy="459.3" r="2.2" fill="#fdf6f5" stroke="#353030" stroke-width="1.0"/>
<circle cx="238.0" cy="463.4" r="2.2" fill="#fdf6f5" stroke="#353030" stroke-width="1.0"/>
<circle cx="238.0" cy="466.7" r="2.2" fill="#fdf6f5" stroke="#353030" stroke-width="1.0"/>
<circle cx="238.0" cy="471.0" r="2.2" fill="#e0968f" stroke="#4e2424" stroke-width="1.0"/>
<circle cx="238.0" cy="473.8" r="2.2" fill="#e0968f" stroke="#4e2424" stroke-width="1.0"/>
<circle cx="238.0" cy="476.8" r="2.2" fill="#e0968f" stroke="#4e2424" stroke-width="1.0"/>
<path d="M253.00 343.62L256.10 348.98L249.90 348.98Z" fill="#fdf6f5" stroke="#353030" stroke-width="0.95" stroke-linejoin="miter"/>
<path d="M253.00 408.52L256.10 413.88L249.90 413.88Z" fill="#e0968f" stroke="#4e2424" stroke-width="0.95" stroke-linejoin="miter"/>
<path d="M253.00 410.32L256.10 415.68L249.90 415.68Z" fill="#fdf6f5" stroke="#353030" stroke-width="0.95" stroke-linejoin="miter"/>
<path d="M250.80 421.52L253.90 426.88L247.70 426.88Z" fill="#fdf6f5" stroke="#353030" stroke-width="0.95" stroke-linejoin="miter"/>
<path d="M253.60 431.42L256.70 436.78L250.50 436.78Z" fill="#fdf6f5" stroke="#353030" stroke-width="0.95" stroke-linejoin="miter"/>
<circle cx="263.0" cy="425.4" r="2.2" fill="#fdf6f5" stroke="#353030" stroke-width="1.0"/>
<circle cx="262.8" cy="432.4" r="2.2" fill="#fdf6f5" stroke="#353030" stroke-width="1.0"/>
<circle cx="262.8" cy="433.4" r="2.2" fill="#fdf6f5" stroke="#353030" stroke-width="1.0"/>
<path d="M281.40 424.52L284.50 429.88L278.30 429.88Z" fill="#fdf6f5" stroke="#353030" stroke-width="0.95" stroke-linejoin="miter"/>
<path d="M281.40 431.52L284.50 436.88L278.30 436.88Z" fill="#fdf6f5" stroke="#353030" stroke-width="0.95" stroke-linejoin="miter"/>
<circle cx="284.3" cy="437.5" r="2.2" fill="#fdf6f5" stroke="#353030" stroke-width="1.0"/>
<path d="M281.90 442.12L285.00 447.48L278.80 447.48Z" fill="#fdf6f5" stroke="#353030" stroke-width="0.95" stroke-linejoin="miter"/>
<path d="M263.00 440.62L266.10 445.98L259.90 445.98Z" fill="#fdf6f5" stroke="#353030" stroke-width="0.95" stroke-linejoin="miter"/>
<path d="M262.90 444.92L266.00 450.28L259.80 450.28Z" fill="#fdf6f5" stroke="#353030" stroke-width="0.95" stroke-linejoin="miter"/>
<path d="M262.90 448.32L266.00 453.68L259.80 453.68Z" fill="#fdf6f5" stroke="#353030" stroke-width="0.95" stroke-linejoin="miter"/>
<path d="M262.90 452.32L266.00 457.68L259.80 457.68Z" fill="#fdf6f5" stroke="#353030" stroke-width="0.95" stroke-linejoin="miter"/>
<path d="M262.90 456.32L266.00 461.68L259.80 461.68Z" fill="#a09898" stroke="#3a3434" stroke-width="0.95" stroke-linejoin="miter"/>
<path d="M262.90 459.32L266.00 464.68L259.80 464.68Z" fill="#a09898" stroke="#3a3434" stroke-width="0.95" stroke-linejoin="miter"/>
<path d="M262.90 461.92L266.00 467.28L259.80 467.28Z" fill="#a09898" stroke="#3a3434" stroke-width="0.95" stroke-linejoin="miter"/>
<path d="M262.90 465.92L266.00 471.28L259.80 471.28Z" fill="#fdf6f5" stroke="#353030" stroke-width="0.95" stroke-linejoin="miter"/>
<path d="M262.90 471.32L266.00 476.68L259.80 476.68Z" fill="#bd1238" stroke="#5e0a1c" stroke-width="0.95" stroke-linejoin="miter"/>
<path d="M262.90 474.92L266.00 480.28L259.80 480.28Z" fill="#bd1238" stroke="#5e0a1c" stroke-width="0.95" stroke-linejoin="miter"/>
<path d="M262.90 477.72L266.00 483.08L259.80 483.08Z" fill="#bd1238" stroke="#5e0a1c" stroke-width="0.95" stroke-linejoin="miter"/>
<path d="M251.50 450.72L254.60 456.08L248.40 456.08Z" fill="#fdf6f5" stroke="#353030" stroke-width="0.95" stroke-linejoin="miter"/>
<path d="M252.90 454.02L256.00 459.38L249.80 459.38Z" fill="#fdf6f5" stroke="#353030" stroke-width="0.95" stroke-linejoin="miter"/>
<path d="M257.40 456.52L260.50 461.88L254.30 461.88Z" fill="#fdf6f5" stroke="#353030" stroke-width="0.95" stroke-linejoin="miter"/>
<path d="M248.60 467.72L251.70 473.08L245.50 473.08Z" fill="#e0968f" stroke="#4e2424" stroke-width="0.95" stroke-linejoin="miter"/>
<path d="M250.60 467.52L253.70 472.88L247.50 472.88Z" fill="#e0968f" stroke="#4e2424" stroke-width="0.95" stroke-linejoin="miter"/>
<circle cx="254.3" cy="467.4" r="2.2" fill="#e0968f" stroke="#4e2424" stroke-width="1.0"/>
<circle cx="254.3" cy="471.4" r="2.2" fill="#e0968f" stroke="#4e2424" stroke-width="1.0"/>
<circle cx="254.3" cy="474.0" r="2.2" fill="#e0968f" stroke="#4e2424" stroke-width="1.0"/>
<circle cx="269.4" cy="456.0" r="2.2" fill="#fdf6f5" stroke="#353030" stroke-width="1.0"/>
<circle cx="270.5" cy="460.9" r="2.2" fill="#fdf6f5" stroke="#353030" stroke-width="1.0"/>
<circle cx="269.6" cy="467.3" r="2.2" fill="#fdf6f5" stroke="#353030" stroke-width="1.0"/>
<circle cx="294.4" cy="387.0" r="2.2" fill="#fdf6f5" stroke="#353030" stroke-width="1.0"/>
<circle cx="294.4" cy="395.9" r="2.2" fill="#fdf6f5" stroke="#353030" stroke-width="1.0"/>
<path d="M287.90 406.52L291.00 411.88L284.80 411.88Z" fill="#fdf6f5" stroke="#353030" stroke-width="0.95" stroke-linejoin="miter"/>
<circle cx="301.2" cy="409.8" r="2.2" fill="#fdf6f5" stroke="#353030" stroke-width="1.0"/>
<path d="M289.70 414.52L292.80 419.88L286.60 419.88Z" fill="#fdf6f5" stroke="#353030" stroke-width="0.95" stroke-linejoin="miter"/>
<path d="M295.90 416.72L299.00 422.08L292.80 422.08Z" fill="#fdf6f5" stroke="#353030" stroke-width="0.95" stroke-linejoin="miter"/>
<path d="M301.20 414.22L304.30 419.58L298.10 419.58Z" fill="#fdf6f5" stroke="#353030" stroke-width="0.95" stroke-linejoin="miter"/>
<path d="M301.20 417.82L304.30 423.18L298.10 423.18Z" fill="#fdf6f5" stroke="#353030" stroke-width="0.95" stroke-linejoin="miter"/>
<path d="M295.90 420.52L299.00 425.88L292.80 425.88Z" fill="#fdf6f5" stroke="#353030" stroke-width="0.95" stroke-linejoin="miter"/>
<path d="M295.90 425.62L299.00 430.98L292.80 430.98Z" fill="#fdf6f5" stroke="#353030" stroke-width="0.95" stroke-linejoin="miter"/>
<path d="M295.90 429.62L299.00 434.98L292.80 434.98Z" fill="#fdf6f5" stroke="#353030" stroke-width="0.95" stroke-linejoin="miter"/>
<path d="M301.20 432.32L304.30 437.68L298.10 437.68Z" fill="#fdf6f5" stroke="#353030" stroke-width="0.95" stroke-linejoin="miter"/>
<circle cx="293.7" cy="438.6" r="2.2" fill="#fdf6f5" stroke="#353030" stroke-width="1.0"/>
<circle cx="293.7" cy="441.2" r="2.2" fill="#fdf6f5" stroke="#353030" stroke-width="1.0"/>
<path d="M296.30 440.72L299.40 446.08L293.20 446.08Z" fill="#fdf6f5" stroke="#353030" stroke-width="0.95" stroke-linejoin="miter"/>
<path d="M282.60 442.52L285.70 447.88L279.50 447.88Z" fill="#fdf6f5" stroke="#353030" stroke-width="0.95" stroke-linejoin="miter"/>
<path d="M289.20 444.32L292.30 449.68L286.10 449.68Z" fill="#fdf6f5" stroke="#353030" stroke-width="0.95" stroke-linejoin="miter"/>
<circle cx="294.1" cy="450.6" r="2.2" fill="#fdf6f5" stroke="#353030" stroke-width="1.0"/>
<path d="M296.30 449.62L299.40 454.98L293.20 454.98Z" fill="#fdf6f5" stroke="#353030" stroke-width="0.95" stroke-linejoin="miter"/>
<circle cx="295.4" cy="455.9" r="2.2" fill="#fdf6f5" stroke="#353030" stroke-width="1.0"/>
<path d="M295.90 456.52L299.00 461.88L292.80 461.88Z" fill="#fdf6f5" stroke="#353030" stroke-width="0.95" stroke-linejoin="miter"/>
<circle cx="306.1" cy="456.8" r="2.2" fill="#fdf6f5" stroke="#353030" stroke-width="1.0"/>
<path d="M282.70 462.32L285.80 467.68L279.60 467.68Z" fill="#fdf6f5" stroke="#353030" stroke-width="0.95" stroke-linejoin="miter"/>
<path d="M282.70 465.42L285.80 470.78L279.60 470.78Z" fill="#fdf6f5" stroke="#353030" stroke-width="0.95" stroke-linejoin="miter"/>
<path d="M300.80 461.92L303.90 467.28L297.70 467.28Z" fill="#fdf6f5" stroke="#353030" stroke-width="0.95" stroke-linejoin="miter"/>
<circle cx="293.8" cy="469.6" r="2.2" fill="#fdf6f5" stroke="#353030" stroke-width="1.0"/>
<circle cx="325.4" cy="450.5" r="2.2" fill="#fdf6f5" stroke="#353030" stroke-width="1.0"/>
<circle cx="325.4" cy="458.0" r="2.2" fill="#fdf6f5" stroke="#353030" stroke-width="1.0"/>
<circle cx="325.4" cy="462.1" r="2.2" fill="#fdf6f5" stroke="#353030" stroke-width="1.0"/>
<circle cx="324.9" cy="468.8" r="2.2" fill="#fdf6f5" stroke="#353030" stroke-width="1.0"/>
<circle cx="329.9" cy="468.8" r="2.2" fill="#fdf6f5" stroke="#353030" stroke-width="1.0"/>
<circle cx="348.4" cy="394.4" r="2.2" fill="#fdf6f5" stroke="#353030" stroke-width="1.0"/>
<circle cx="348.4" cy="427.9" r="2.2" fill="#fdf6f5" stroke="#353030" stroke-width="1.0"/>
<circle cx="345.9" cy="433.2" r="2.2" fill="#fdf6f5" stroke="#353030" stroke-width="1.0"/>
<circle cx="348.4" cy="454.1" r="2.2" fill="#fdf6f5" stroke="#353030" stroke-width="1.0"/>
<circle cx="365.1" cy="446.0" r="2.2" fill="#fdf6f5" stroke="#353030" stroke-width="1.0"/>
<circle cx="382.0" cy="437.5" r="2.2" fill="#fdf6f5" stroke="#353030" stroke-width="1.0"/>
<circle cx="382.0" cy="448.2" r="2.2" fill="#fdf6f5" stroke="#353030" stroke-width="1.0"/>
<circle cx="400.7" cy="423.3" r="2.2" fill="#fdf6f5" stroke="#353030" stroke-width="1.0"/>
<circle cx="401.8" cy="434.8" r="2.2" fill="#fdf6f5" stroke="#353030" stroke-width="1.0"/>
<circle cx="400.9" cy="445.5" r="2.2" fill="#fdf6f5" stroke="#353030" stroke-width="1.0"/>
<circle cx="400.9" cy="452.6" r="2.2" fill="#fdf6f5" stroke="#353030" stroke-width="1.0"/>
<circle cx="400.9" cy="456.4" r="2.2" fill="#fdf6f5" stroke="#353030" stroke-width="1.0"/>
<circle cx="429.2" cy="427.0" r="2.2" fill="#fdf6f5" stroke="#353030" stroke-width="1.0"/>
<circle cx="432.6" cy="447.8" r="2.2" fill="#fdf6f5" stroke="#353030" stroke-width="1.0"/>
<circle cx="424.6" cy="451.4" r="2.2" fill="#fdf6f5" stroke="#353030" stroke-width="1.0"/>
<circle cx="436.3" cy="455.3" r="2.2" fill="#fdf6f5" stroke="#353030" stroke-width="1.0"/>
<circle cx="436.3" cy="456.4" r="2.2" fill="#fdf6f5" stroke="#353030" stroke-width="1.0"/>
<circle cx="426.0" cy="463.3" r="2.2" fill="#fdf6f5" stroke="#353030" stroke-width="1.0"/>
<circle cx="436.3" cy="463.8" r="2.2" fill="#fdf6f5" stroke="#353030" stroke-width="1.0"/>
<circle cx="426.0" cy="469.2" r="2.2" fill="#fdf6f5" stroke="#353030" stroke-width="1.0"/>
<circle cx="454.0" cy="440.7" r="2.2" fill="#fdf6f5" stroke="#353030" stroke-width="1.0"/>
<circle cx="458.4" cy="457.3" r="2.2" fill="#fdf6f5" stroke="#353030" stroke-width="1.0"/>
<circle cx="127.7" cy="531.5" r="3.6" fill="#bd1238" stroke="#5e0a1c" stroke-width="1"/>
<text x="136.3" y="534.6" font-size="10" text-anchor="start" fill="#222" font-weight="normal" font-style="normal" textLength="68.3" lengthAdjust="spacingAndGlyphs" >NonResponder</text>
<circle cx="220.1" cy="531.5" r="3.6" fill="#e0968f" stroke="#4e2424" stroke-width="1"/>
<text x="228.3" y="534.6" font-size="10" text-anchor="start" fill="#222" font-weight="normal" font-style="normal" textLength="77" lengthAdjust="spacingAndGlyphs" >PartialResponder</text>
<circle cx="322" cy="531.5" r="3.6" fill="#f3dfdb" stroke="#353030" stroke-width="1"/>
<text x="329.9" y="534.6" font-size="10" text-anchor="start" fill="#222" font-weight="normal" font-style="normal" textLength="94.3" lengthAdjust="spacingAndGlyphs" >CompleteResponder</text>
<circle cx="127.7" cy="548.8" r="3.5" fill="#fff" stroke="#444" stroke-width="1"/>
<text x="136.3" y="551.6" font-size="10" text-anchor="start" fill="#222" font-weight="normal" font-style="normal" textLength="26.4" lengthAdjust="spacingAndGlyphs" >Type1</text>
<path d="M180 544.6L184.2 552.1L175.8 552.1Z" fill="#fff" stroke="#444" stroke-width="1"/>
<text x="187.4" y="551.6" font-size="10" text-anchor="start" fill="#222" font-weight="normal" font-style="normal" textLength="27.8" lengthAdjust="spacingAndGlyphs" >Type2</text>
</svg></div></body></html>
